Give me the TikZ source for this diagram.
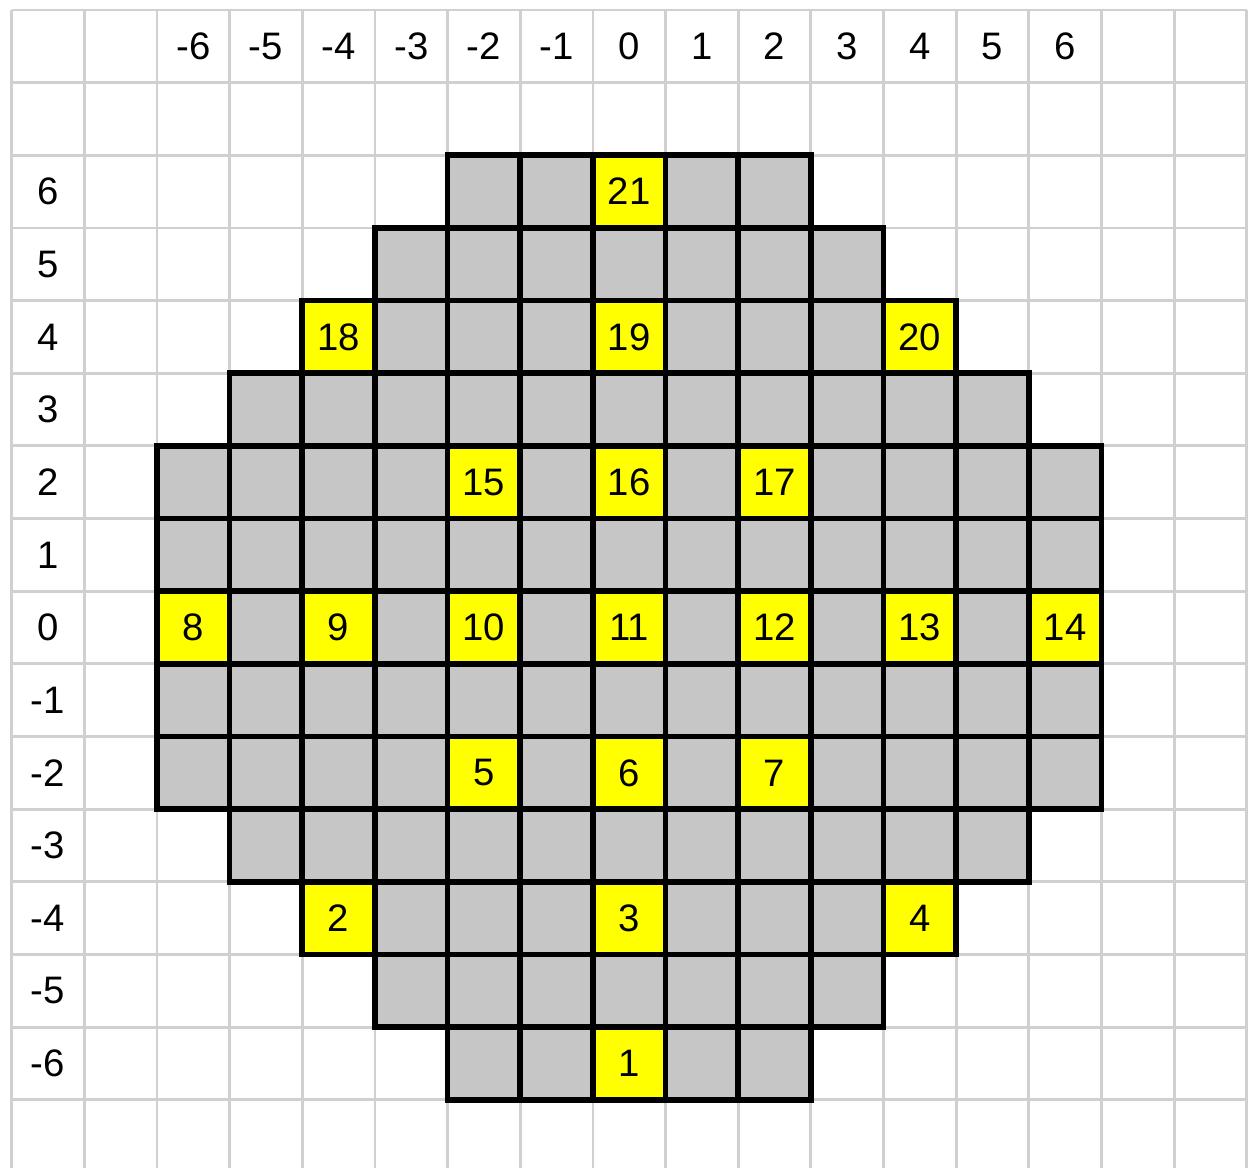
\documentclass[tikz,border=0pt]{standalone}
\usepackage{fontspec}
\setmainfont{Liberation Sans}
\definecolor{cellgray}{RGB}{198,198,198}
\definecolor{gridgray}{RGB}{208,208,208}
\definecolor{cellyellow}{RGB}{255,255,0}
\begin{document}
\begin{tikzpicture}[
  lbl/.style={font=\fontsize{15}{18}\selectfont, inner sep=0pt},
  cell/.style={draw=black, line width=2.2pt, fill=cellgray, minimum size=1cm, inner sep=0pt, outer sep=0pt},
  ycell/.style={cell, fill=cellyellow, font=\fontsize{15}{18}\selectfont},
  gline/.style={draw=gridgray, line width=1.1pt}]
\useasboundingbox (-0.161,0.1376) rectangle (17.017,-15.94);
% light grid
\foreach \i in {0,...,17} \draw[gline] (\i,0) -- (\i,-15.94);
\foreach \j in {0,...,15} \draw[gline] (0,-\j) -- (17,-\j);
% axis labels
\foreach \v in {-6,...,6} {
  \node[lbl] (top\v) at (\v+8.5,-0.5) {\v};
  \node[lbl] (left\v) at (0.5,\v-8.5) {\v};
}
% gray cells
\foreach \vy in {-6,...,6} {
  \pgfmathtruncatemacro\hw{min(6,8-abs(\vy))}
  \foreach \vx in {-\hw,...,\hw} {
    \node[cell] (c\vx x\vy) at (\vx+8.5,\vy-8.5) {};
  }
}
% yellow cells
\foreach \vx/\vy/\n in {0/6/21, -4/4/18, 0/4/19, 4/4/20, -2/2/15, 0/2/16, 2/2/17,
  -6/0/8, -4/0/9, -2/0/10, 0/0/11, 2/0/12, 4/0/13, 6/0/14,
  -2/-2/5, 0/-2/6, 2/-2/7, -4/-4/2, 0/-4/3, 4/-4/4, 0/-6/1} {
  \node[ycell] (y\n) at (\vx+8.5,\vy-8.5) {\n};
}
\end{tikzpicture}
\end{document}
